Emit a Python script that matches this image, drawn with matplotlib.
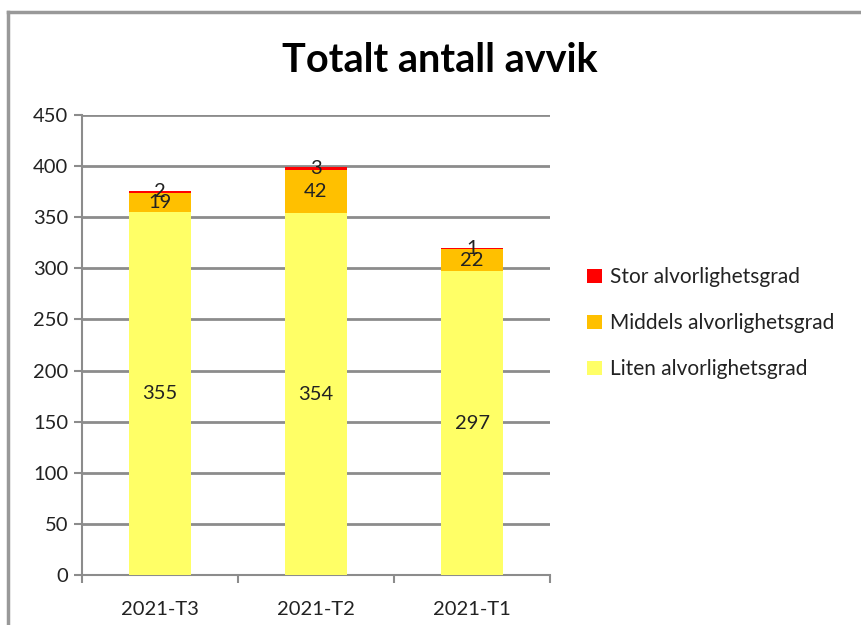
import matplotlib
matplotlib.use("Agg")
import matplotlib.pyplot as plt
from matplotlib.lines import Line2D
import numpy as np

categories = ["2021-T3", "2021-T2", "2021-T1"]
liten = [355, 354, 297]
middels = [19, 42, 22]
stor = [2, 3, 1]
series_names = ["Liten alvorlighetsgrad", "Middels alvorlighetsgrad", "Stor alvorlighetsgrad"]
colors = ["#FFFF66", "#FFC000", "#FF0000"]

plt.rcParams["font.family"] = ["Lato", "DejaVu Sans"]
txt_col = "#222222"

fig = plt.figure(figsize=(8.61, 6.25), dpi=100)
ax = fig.add_axes([0.0952, 0.08, 0.5436, 0.736])

x = np.arange(len(categories))
bottom = np.zeros(len(categories))
for vals, name, col in zip([liten, middels, stor], series_names, colors):
    ax.bar(x, vals, 0.4, bottom=bottom, color=col, label=name, zorder=3)
    for xi, v, b0 in zip(x, vals, bottom):
        ax.text(xi, b0 + v / 2, str(v), ha="center", va="center", fontsize=14.5, color=txt_col, zorder=4)
    bottom = bottom + np.array(vals)

ax.set_xlim(-0.5, 2.5)
ax.set_ylim(0, 450)
ax.set_yticks(range(0, 451, 50))
ax.grid(axis="y", color="#8c8c8c", linewidth=2, zorder=0)
ax.set_xticks(x)
ax.set_xticklabels(categories, fontsize=14.5, color=txt_col)
ax.set_xticks([-0.5, 0.5, 1.5, 2.5], minor=True)
ax.tick_params(axis="x", which="major", length=0, pad=19)
ax.tick_params(axis="x", which="minor", length=6, width=1.5, color="#8c8c8c", direction="out")
ax.tick_params(axis="y", length=6, width=1.5, color="#8c8c8c", labelsize=14.5, labelcolor=txt_col, pad=4)
for s in ["top", "right"]:
    ax.spines[s].set_visible(False)
for s in ["left", "bottom"]:
    ax.spines[s].set_color("#8c8c8c")
    ax.spines[s].set_linewidth(1.5)

fig.text(0.511, 0.903, "Totalt antall avvik", ha="center", va="center", fontsize=28.5, fontweight="bold")

h, l = ax.get_legend_handles_labels()
fig.legend(h[::-1], l[::-1], loc="center left", bbox_to_anchor=(0.660, 0.483), frameon=False,
           fontsize=15, handlelength=0.7, handleheight=0.7, handletextpad=0.4, labelspacing=1.25,
           labelcolor=txt_col)

# outer chart border
fig.add_artist(Line2D([8 / 861, 8 / 861], [0, 1 - 12 / 625], color="#999999", linewidth=2.5, transform=fig.transFigure))
fig.add_artist(Line2D([8 / 861, 1], [1 - 12 / 625, 1 - 12 / 625], color="#999999", linewidth=2.5, transform=fig.transFigure))

fig.savefig("out.png", dpi=100, facecolor="white")
